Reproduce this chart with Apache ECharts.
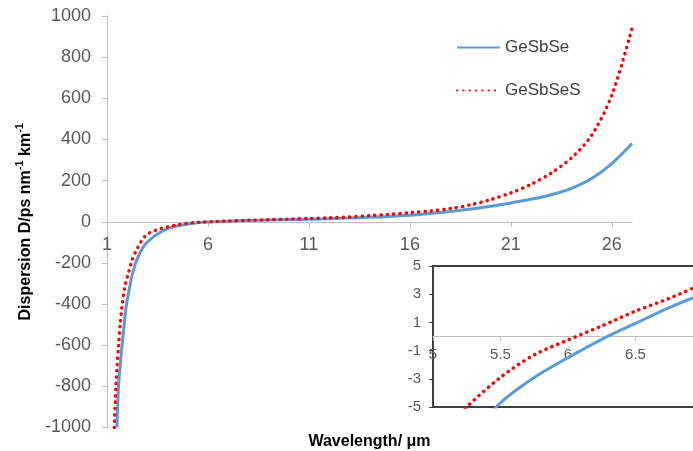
<!DOCTYPE html>
<html>
<head>
<meta charset="utf-8">
<script src="https://cdn.jsdelivr.net/npm/echarts@6/dist/echarts.min.js"></script>
<style>
  html, body { margin: 0; padding: 0; background: #fff; }
  #chart { width: 693px; height: 451px; }
</style>
</head>
<body>
<div id="chart"></div>
<script>
// GeSbSe (solid blue)
const blueWavelength = [1.49, 1.57, 1.65, 1.74, 1.85, 1.95, 2.1, 2.23, 2.4, 2.63, 2.85, 3.12, 3.5, 4.0, 4.5, 5.0, 5.25, 5.5, 5.75, 6.0, 6.25, 6.5, 6.75, 7, 8, 9, 10, 11, 12, 13, 14, 15, 16, 17, 18, 19, 20, 21, 22, 23, 24, 25, 26, 27]
const blueDispersion = [-1000, -801, -700, -606, -500, -412, -330, -266, -205, -152, -115, -88, -60, -33, -20, -10.5, -7.4, -4.7, -2.9, -1.5, -0.2, 0.93, 2.05, 3.0, 6, 8.5, 10.5, 12.5, 15, 18, 21.5, 26, 32, 40, 50, 62, 75, 91, 109, 131, 162, 210, 283, 380]

// GeSbSeS (red dotted)
const redWavelength = [1.36, 1.44, 1.5, 1.57, 1.65, 1.74, 1.9, 2.06, 2.25, 2.47, 2.7, 2.96, 3.4, 4.0, 4.5, 5.0, 5.25, 5.5, 5.75, 6.0, 6.25, 6.5, 6.75, 7, 8, 9, 10, 11, 12, 13, 14, 15, 16, 17, 18, 19, 20, 21, 22, 23, 24, 25, 26, 27]
const redDispersion = [-1000, -800, -700, -606, -500, -412, -310, -250, -185, -136, -95, -63, -42, -25, -15, -7.5, -5, -2.9, -1.3, -0.25, 0.75, 1.8, 2.7, 3.7, 7, 10, 13, 16, 19, 23, 30, 36, 44, 52, 64, 82, 108, 140, 182, 237, 310, 420, 615, 940]

const xTicks = [1, 6, 11, 16, 21, 26]
const insetXTicks = [5, 5.5, 6, 6.5]
const insetYTicks = [-5, -3, -1, 1, 3, 5]

const fontFamily = "'Liberation Sans', Arial, sans-serif"
const blueColor = '#5B9BD5'
const redColor = '#FF0000'

const pairs = (xs, ys) => xs.map((x, i) => [x, ys[i]])

// grid boxes; the x axes sit on y = 0, which is the middle of each y range
const mainGrid = { left: 107, top: 16, width: 525, height: 411.5 }
const insetGrid = { left: 433, top: 266, width: 270, height: 141 }

const chart = echarts.init(document.getElementById('chart'))

const blueStyle = { color: blueColor, width: 3 }
const redStyle = { color: redColor, width: 3.4, type: [0.3, 6], cap: 'round' }

const option = {
  animation: false,
  backgroundColor: '#fff',
  textStyle: { fontFamily },
  legend: {
    orient: 'vertical',
    left: 456,
    top: 39,
    padding: 0,
    itemWidth: 43,
    itemHeight: 18,
    itemGap: 26,
    data: ['GeSbSe', 'GeSbSeS'],
    itemStyle: { opacity: 0 },
    textStyle: { fontSize: 17, color: '#404040', fontFamily }
  },
  grid: [
    { ...mainGrid, outerBoundsMode: 'none', containLabel: false },
    {
      ...insetGrid, outerBoundsMode: 'none', containLabel: false,
      show: true, backgroundColor: '#fff', borderColor: '#404040', borderWidth: 2, z: 5
    }
  ],
  xAxis: [
    {
      gridIndex: 0,
      type: 'value',
      min: 1,
      max: 27,
      offset: -mainGrid.height / 2,
      name: 'Wavelength/ μm',
      nameLocation: 'middle',
      nameGap: 212,
      nameTextStyle: { fontSize: 16, fontWeight: 'bold', color: '#000', fontFamily },
      axisLine: { onZero: false, lineStyle: { color: '#BFBFBF', width: 1 } },
      axisTick: { show: true, length: 5, customValues: xTicks, lineStyle: { color: '#BFBFBF' } },
      axisLabel: { customValues: xTicks, margin: 14, fontSize: 18, color: '#595959', fontFamily },
      splitLine: { show: false }
    },
    {
      gridIndex: 1,
      type: 'value',
      min: 5,
      max: 7,
      offset: -insetGrid.height / 2,
      axisLine: { onZero: false, lineStyle: { color: '#BFBFBF', width: 1 } },
      axisTick: { show: true, length: 4, customValues: insetXTicks, lineStyle: { color: '#BFBFBF' } },
      axisLabel: { customValues: insetXTicks, margin: 11, fontSize: 15, color: '#595959', fontFamily },
      splitLine: { show: false },
      z: 6
    }
  ],
  yAxis: [
    {
      gridIndex: 0,
      type: 'value',
      min: -1000,
      max: 1000,
      interval: 200,
      name: '{b|Dispersion D/ps nm}{s|-1}{b| km}{s|-1}',
      nameLocation: 'middle',
      nameGap: 72,
      nameRotate: 90,
      nameTextStyle: {
        rich: {
          b: { fontSize: 16, fontWeight: 'bold', color: '#000', fontFamily, lineHeight: 20, verticalAlign: 'bottom' },
          s: { fontSize: 11, fontWeight: 'bold', color: '#000', fontFamily, lineHeight: 20, verticalAlign: 'top' }
        }
      },
      axisLine: { show: true, lineStyle: { color: '#BFBFBF', width: 1 } },
      axisTick: { show: true, length: 5, lineStyle: { color: '#BFBFBF' } },
      axisLabel: { margin: 16, fontSize: 18, color: '#595959', fontFamily, formatter: v => String(v) },
      splitLine: { show: false }
    },
    {
      gridIndex: 1,
      type: 'value',
      min: -5,
      max: 5,
      axisLine: { show: false },
      axisTick: { show: true, length: 4, customValues: insetYTicks, lineStyle: { color: '#404040' } },
      axisLabel: { customValues: insetYTicks, margin: 12, fontSize: 15, color: '#595959', fontFamily },
      splitLine: { show: false },
      z: 6
    }
  ],
  series: [
    {
      name: 'GeSbSe', type: 'line', xAxisIndex: 0, yAxisIndex: 0,
      data: pairs(blueWavelength, blueDispersion),
      showSymbol: false, symbol: 'none', smooth: 0.3,
      lineStyle: blueStyle, itemStyle: { color: blueColor }
    },
    {
      name: 'GeSbSeS', type: 'line', xAxisIndex: 0, yAxisIndex: 0,
      data: pairs(redWavelength, redDispersion),
      showSymbol: false, symbol: 'none', smooth: 0.3,
      lineStyle: redStyle, itemStyle: { color: redColor }
    },
    {
      name: 'GeSbSe', type: 'line', xAxisIndex: 1, yAxisIndex: 1,
      data: pairs(blueWavelength, blueDispersion),
      showSymbol: false, symbol: 'none', smooth: 0.3, clip: true, z: 7,
      lineStyle: blueStyle, itemStyle: { color: blueColor }
    },
    {
      name: 'GeSbSeS', type: 'line', xAxisIndex: 1, yAxisIndex: 1,
      data: pairs(redWavelength, redDispersion),
      showSymbol: false, symbol: 'none', smooth: 0.3, clip: true, z: 7,
      lineStyle: redStyle, itemStyle: { color: redColor }
    }
  ]
}

chart.setOption(option)
</script>
</body>
</html>
